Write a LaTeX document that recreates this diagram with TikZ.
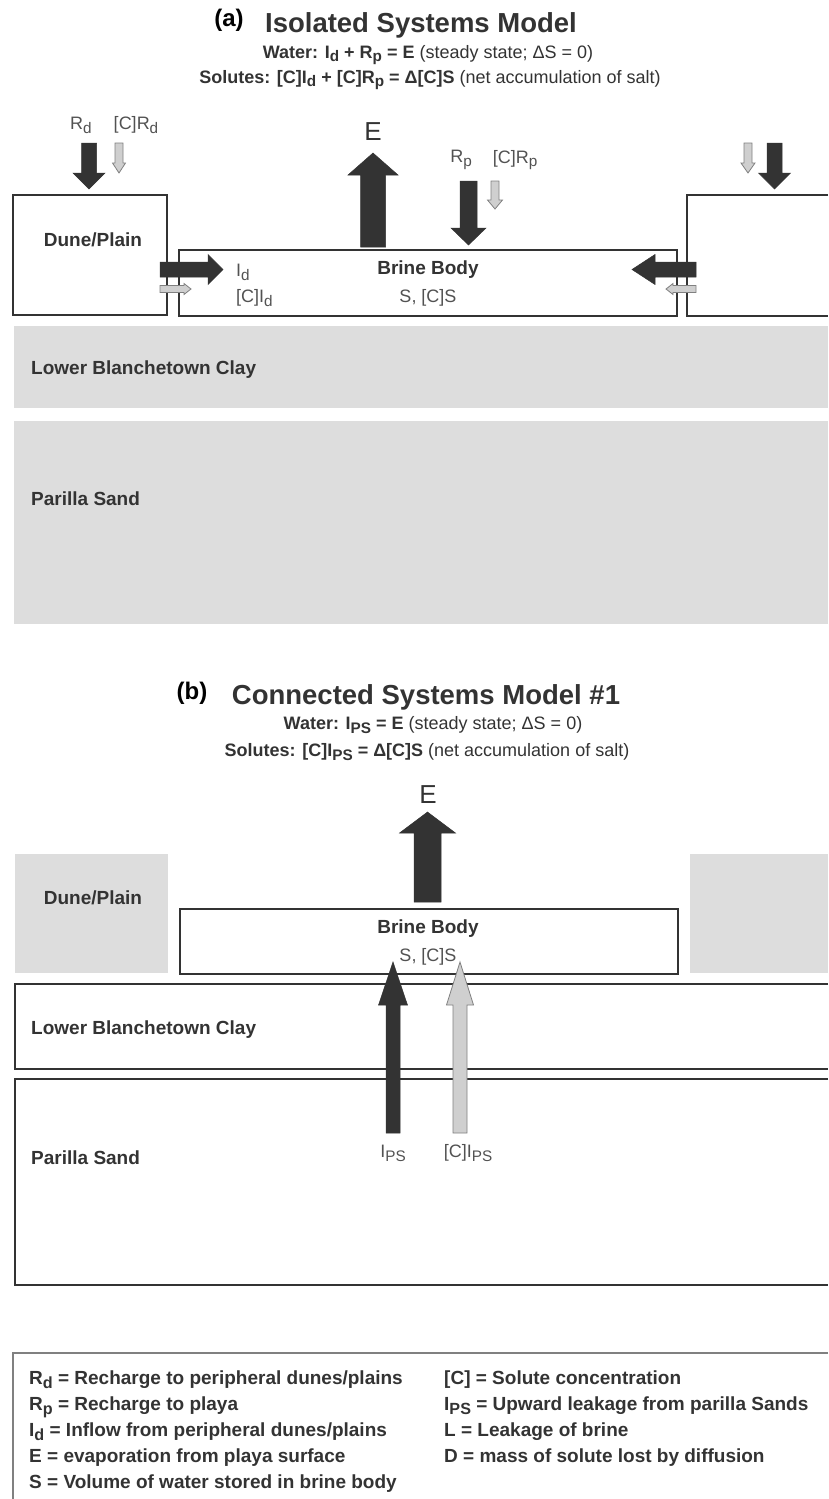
\documentclass[tikz,border=0pt]{standalone}
\usepackage{fontspec}
\setmainfont{Liberation Sans}
\usetikzlibrary{positioning}
\definecolor{ink}{HTML}{333333}
\definecolor{layergray}{HTML}{DDDDDD}
\definecolor{solgray}{HTML}{CFCFCF}

% lowered index, larger than \textsubscript
\newcommand{\subs}[1]{\raisebox{-0.4ex}{\scalebox{0.85}{#1}}}
% vertical / horizontal block arrows: [style]{pos}{tail}{head base}{tip}{half shaft}{half head}
\newcommand{\flowv}[7][]{%
  \draw[#1] ({#2-#6},#3) -- ({#2-#6},#4) -- ({#2-#7},#4) -- (#2,#5)
    -- ({#2+#7},#4) -- ({#2+#6},#4) -- ({#2+#6},#3) -- cycle;}
\newcommand{\flowh}[7][]{%
  \draw[#1] (#3,{#2-#6}) -- (#4,{#2-#6}) -- (#4,{#2-#7}) -- (#5,#2)
    -- (#4,{#2+#7}) -- (#4,{#2+#6}) -- (#3,{#2+#6}) -- cycle;}

\begin{document}
\begin{tikzpicture}[
    x=1pt, y=-1pt,
    tag/.style={font=\fontsize{24}{26}\selectfont\bfseries, text=black, inner sep=0pt},
    title/.style={font=\fontsize{27.5}{30}\selectfont\bfseries, text=ink, inner sep=0pt},
    eqn/.style={font=\fontsize{18}{21}\selectfont, text=ink, inner sep=0pt},
    lbl/.style={font=\fontsize{19}{22}\selectfont\bfseries, text=ink, inner sep=0pt},
    sym/.style={font=\fontsize{18}{21}\selectfont, text=ink!85, inner sep=0pt},
    flux/.style={font=\fontsize{26}{28}\selectfont, text=ink, inner sep=0pt},
    key/.style={font=\fontsize{19}{22}\selectfont\bfseries, text=ink, anchor=base west, inner sep=0pt},
    box/.style={draw=ink, line width=1.3pt},
    brine/.style={draw=ink, line width=2pt, fill=white},
    layer/.style={fill=layergray},
    water/.style={fill=ink, draw=ink, line width=0.5pt},
    solute/.style={fill=solgray, draw=gray, line width=0.8pt}
  ]
  \useasboundingbox (0,0) rectangle (828,1499);

  % ---------- (a) isolated systems
  \node[tag, anchor=base] (taga) at (229,27) {(a)};
  \node[title, anchor=base] (titlea) at (421,32) {Isolated Systems Model};
  \node[eqn] (watera) at (428,55) {\textbf{Water: I\subs{d} + R\subs{p} = E} (steady state; ΔS = 0)};
  \node[eqn] (solutea) at (430,80) {\textbf{Solutes: [C]I\subs{d} + [C]R\subs{p} = Δ[C]S} (net accumulation of salt)};

  \fill[layer] (14,326) rectangle (828,408);
  \fill[layer] (14,421) rectangle (828,624);
  \draw[box] (13,195) rectangle (167,315);
  \draw[box] (828,195) -- (687,195) -- (687,316) -- (828,316);
  \draw[brine] (179,250) rectangle (677,316);

  \node[lbl] (dunea) at (93,240) {Dune/Plain};
  \node[lbl] (brinea) at (428,270) {Brine Body};
  \node[sym, below=10pt of brinea] (storea) {S, [C]S};
  \node[lbl, anchor=west] (claya) at (31,370) {Lower Blanchetown Clay};
  \node[lbl, anchor=west] (sanda) at (31,499) {Parilla Sand};

  \flowv[water]{89}{143}{173}{189}{7.5}{16}
  \flowv[solute]{119}{143}{163}{173}{4}{6.5}
  \flowv[water]{373}{247}{175}{153}{12.5}{25}
  \flowv[water]{468.5}{181}{228}{245}{8.5}{17.5}
  \flowv[solute]{495}{181}{200}{209}{4}{7.5}
  \flowv[solute]{748}{143}{163}{173}{4}{7}
  \flowv[water]{774.5}{143}{173}{189}{7.5}{16}
  \flowh[water]{269.5}{160}{208}{223}{7.5}{15}
  \flowh[solute]{289}{160}{184}{191}{3.5}{5.5}
  \flowh[water]{269.5}{696}{655}{632}{7.5}{15}
  \flowh[solute]{289}{696}{673}{666}{3.5}{5.5}

  \node[sym] (rda) at (81,125) {R\subs{d}};
  \node[sym] (crda) at (136,125) {[C]R\subs{d}};
  \node[flux] (ea) at (373,132) {E};
  \node[sym] (rpa) at (461,160) {R\subs{p}};
  \node[sym] (crpa) at (515,160) {[C]R\subs{p}};
  \node[sym, anchor=west] (ida) at (236,272) {I\subs{d}};
  \node[sym, anchor=west] (cida) at (236,298) {[C]I\subs{d}};

  % ---------- (b) connected systems #1
  \node[tag, anchor=base] (tagb) at (192,699) {(b)};
  \node[title, anchor=base] (titleb) at (426,704) {Connected Systems Model \#1};
  \node[eqn] (waterb) at (433,725) {\textbf{Water: I\subs{PS} = E} (steady state; ΔS = 0)};
  \node[eqn] (soluteb) at (427,752) {\textbf{Solutes: [C]I\subs{PS} = Δ[C]S} (net accumulation of salt)};

  \fill[layer] (15,854) rectangle (168,973);
  \fill[layer] (690,854) rectangle (828,973);
  \draw[brine] (180,909) rectangle (678,974);
  \draw[box] (828,984) -- (15,984) -- (15,1069) -- (828,1069);
  \draw[box] (828,1079) -- (15,1079) -- (15,1285) -- (828,1285);

  \node[lbl] (duneb) at (93,898) {Dune/Plain};
  \node[lbl] (brineb) at (428,929) {Brine Body};
  \node[sym, below=10pt of brineb] (storeb) {S, [C]S};
  \node[lbl, anchor=west] (clayb) at (31,1030) {Lower Blanchetown Clay};
  \node[lbl, anchor=west] (sandb) at (31,1158) {Parilla Sand};

  \flowv[water]{427.5}{902}{833}{812}{13.5}{28}
  \flowv[water]{393}{1133}{1005}{962}{7}{14.5}
  \flowv[solute]{460}{1133}{1005}{962}{7}{13.5}

  \node[flux] (eb) at (428,795) {E};
  \node[sym] (ipsb) at (393,1153) {I\subs{PS}};
  \node[sym] (cipsb) at (468,1153) {[C]I\subs{PS}};

  % ---------- legend
  \draw[draw=gray, line width=1.5pt] (828,1353) -- (13,1353) -- (13,1499);
  \node[key] (krd) at (29,1384) {R\subs{d} = Recharge to peripheral dunes/plains};
  \node[key] (krp) at (29,1410) {R\subs{p} = Recharge to playa};
  \node[key] (kid) at (29,1436) {I\subs{d} = Inflow from peripheral dunes/plains};
  \node[key] (ke) at (29,1462) {E = evaporation from playa surface};
  \node[key] (ks) at (29,1488) {S = Volume of water stored in brine body};
  \node[key] (kc) at (444,1384) {[C] = Solute concentration};
  \node[key] (kips) at (444,1410) {I\subs{PS} = Upward leakage from parilla Sands};
  \node[key] (kl) at (444,1436) {L = Leakage of brine};
  \node[key] (kd) at (444,1462) {D = mass of solute lost by diffusion};
\end{tikzpicture}
\end{document}
